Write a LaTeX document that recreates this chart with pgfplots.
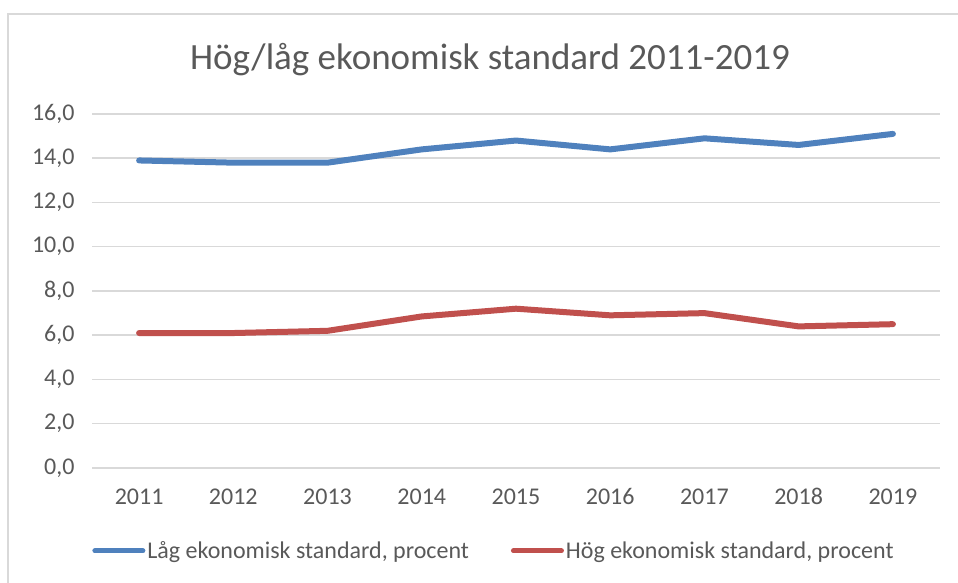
\documentclass[border=0pt]{standalone}
\usepackage{pgfplots}
\pgfplotsset{compat=1.18}
\usepackage{fontspec}
\setmainfont{Carlito}
\definecolor{txt}{HTML}{595959}
\definecolor{gridc}{HTML}{D9D9D9}
\definecolor{blueL}{HTML}{4F81BD}
\definecolor{redL}{HTML}{C0504D}
\begin{document}
\begin{tikzpicture}[x=1bp,y=1bp]
\useasboundingbox (0,0) rectangle (958,583);
\draw[gridc, line width=2bp] (8,-5) -- (8,569) -- (970,569);
\node[txt, font=\fontsize{37bp}{42bp}\selectfont] at (490,523) {Hög/låg ekonomisk standard 2011-2019};
\begin{axis}[
  at={(92bp,115bp)}, anchor=south west,
  scale only axis, width=848bp, height=354bp,
  xmin=2010.5, xmax=2019.5, ymin=0, ymax=16,
  xtick={2011,...,2019}, ytick={0,2,...,16},
  /pgf/number format/assume math mode=true,
  xticklabel={\pgfmathprintnumber[precision=0,1000 sep={}]{\tick}},
  yticklabel style={/pgf/number format/fixed, /pgf/number format/fixed zerofill, /pgf/number format/precision=1, /pgf/number format/use comma, anchor=east, xshift=-14bp},
  axis line style={draw=none},
  major tick length=0pt,
  ymajorgrids, major grid style={gridc, line width=1.5bp},
  tick label style={txt, font=\fontsize{24bp}{28bp}\selectfont},
  xticklabel style={anchor=base, yshift=-37bp},
  clip=false,
  legend columns=2,
  legend style={draw=none, fill=none, at={(0.474,-0.234)}, anchor=center,
    font=\fontsize{24bp}{28bp}\selectfont, text=txt,
    /tikz/every even column/.append style={column sep=40bp},
    inner sep=0pt},
  legend image code/.code={\draw[#1, line width=5bp, line cap=round] (0bp,0bp) -- (48bp,0bp);},
]
\addplot[blueL, line width=6bp, line cap=round, line join=round] coordinates {
(2011,13.9) (2012,13.8) (2013,13.8) (2014,14.4) (2015,14.8) (2016,14.4) (2017,14.9) (2018,14.6) (2019,15.1)};
\addlegendentry{Låg ekonomisk standard, procent}
\addplot[redL, line width=6bp, line cap=round, line join=round] coordinates {
(2011,6.1) (2012,6.1) (2013,6.2) (2014,6.85) (2015,7.2) (2016,6.9) (2017,7.0) (2018,6.4) (2019,6.5)};
\addlegendentry{Hög ekonomisk standard, procent}
\end{axis}
\end{tikzpicture}
\end{document}
